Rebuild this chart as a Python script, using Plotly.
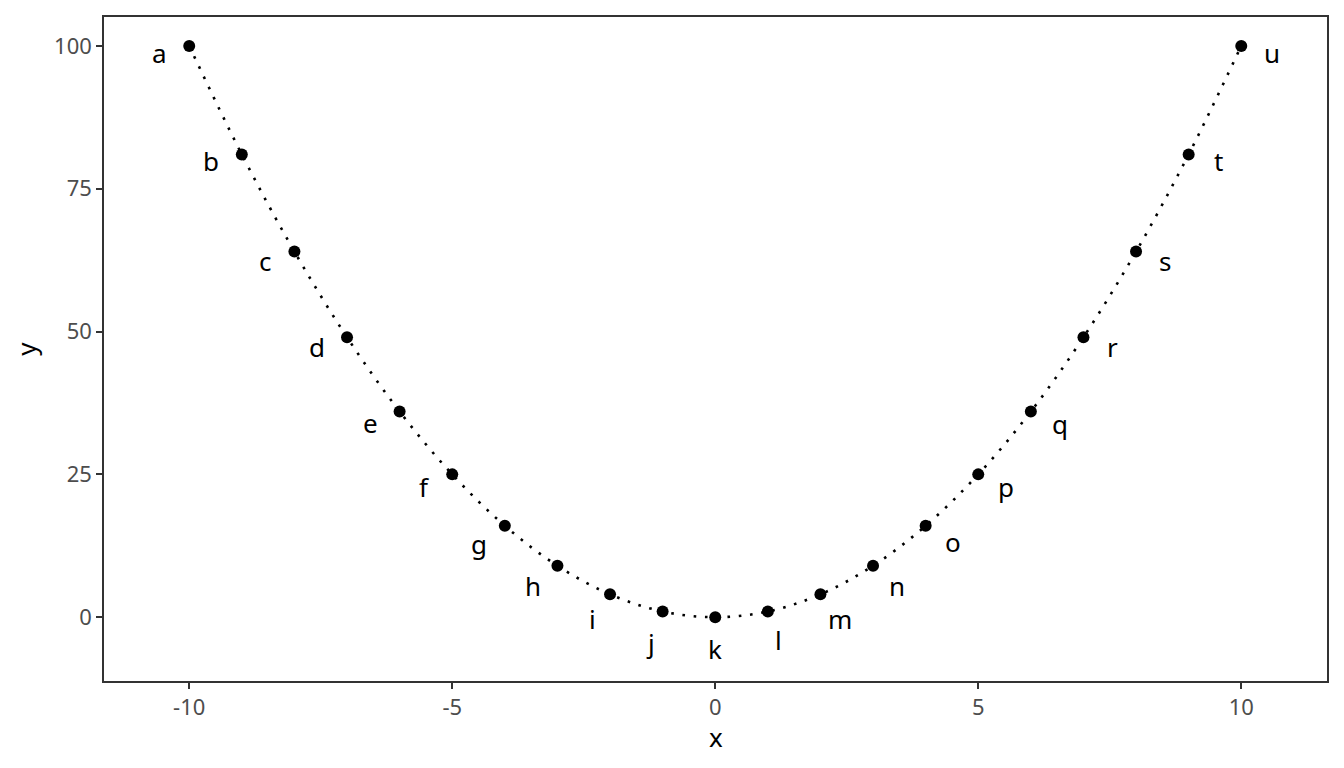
import plotly.graph_objects as go

# points
x_vals = [-10, -9, -8, -7, -6, -5, -4, -3, -2, -1, 0, 1, 2, 3, 4, 5, 6, 7, 8, 9, 10]
y_vals = [100, 81, 64, 49, 36, 25, 16, 9, 4, 1, 0, 1, 4, 9, 16, 25, 36, 49, 64, 81, 100]
point_labels = list("abcdefghijklmnopqrstu")

x_ticks = [-10, -5, 0, 5, 10]
x_ticktext = ["-10", "-5", "0", "5", "10"]
y_ticks = [0, 25, 50, 75, 100]

# label nudges in pixels (repel-like placement)
label_dx = [-30, -31, -29, -30, -29, -28, -26, -24, -18, -12, 0, 11, 20, 24, 27, 28, 29, 29, 29, 30, 31]
label_dy = [7, 7, 9, 10, 11, 13, 18, 20, 25, 32, 32, 29, 25, 20, 16, 13, 12, 10, 9, 7, 7]

FONT = "Noto Sans, Open Sans, DejaVu Sans, sans-serif"

fig = go.Figure()
fig.add_trace(go.Scatter(
    x=x_vals, y=y_vals, mode="lines",
    line=dict(color="black", width=2.6, dash="2.6px,8.7px", shape="spline", smoothing=1.0),
    hoverinfo="skip", showlegend=False,
))
fig.add_trace(go.Scatter(
    x=x_vals, y=y_vals, mode="markers",
    marker=dict(color="black", size=12),
    showlegend=False,
))

for xv, yv, lab, dx, dy in zip(x_vals, y_vals, point_labels, label_dx, label_dy):
    fig.add_annotation(x=xv, y=yv, text=lab, showarrow=False,
                       xshift=dx, yshift=-dy,
                       font=dict(size=26, color="black", family=FONT))

# x axis title placed by hand, plotly keeps it a bit too low otherwise
fig.add_annotation(x=0.5, y=0, xref="paper", yref="paper", text="x",
                   showarrow=False, yanchor="middle", yshift=-56,
                   font=dict(size=26, color="black", family=FONT))

axis_common = dict(
    showgrid=False, zeroline=False,
    showline=True, linecolor="#333333", linewidth=1.5, mirror=True,
    ticks="outside", ticklen=6, tickcolor="#333333", tickwidth=2,
    tickfont=dict(size=22, color="#4d4d4d", family=FONT),
)

fig.update_xaxes(range=[-11.62, 11.63], tickvals=x_ticks, ticktext=x_ticktext,
                 **axis_common)
fig.update_yaxes(range=[-11.17, 105.06], tickvals=y_ticks,
                 title=dict(text="y", font=dict(size=26, color="black", family=FONT), standoff=12),
                 **axis_common)

# page body has an 8px margin, so the figure is shrunk to fit the window
fig.update_layout(
    width=1328, height=752,
    margin=dict(l=96, r=8, t=7, b=79),
    paper_bgcolor="white", plot_bgcolor="white",
    font=dict(family=FONT),
)

fig.write_html("out.html")
